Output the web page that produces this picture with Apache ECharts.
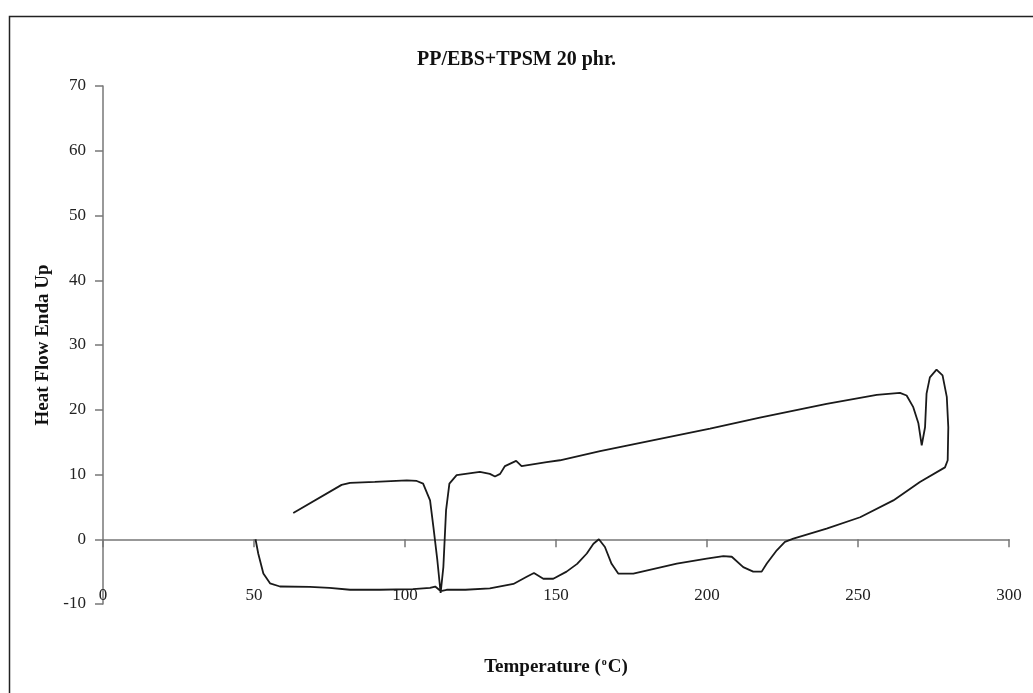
<!DOCTYPE html>
<html>
<head>
<meta charset="utf-8">
<script src="https://cdn.jsdelivr.net/npm/echarts@6/dist/echarts.min.js"></script>
<style>html,body{margin:0;padding:0;background:#fff}#c{width:1033px;height:693px}</style>
</head>
<body>
<div id="c"></div>
<script>
// Heating trace (lower curve), left to right
const heatT = [50.5, 51.4, 53.1, 55.3, 58.6, 68.5, 75, 81.8, 91.7, 102.6, 108.3, 110, 111.8, 113.8, 120, 128.1, 135.9, 140.3, 142.7, 145.8, 149.1, 153.5, 157, 160.2, 162.4, 164.2, 166.2, 168.4, 170.6, 175.6, 190, 199.9, 205.4, 208.2, 212, 215.3, 218.1, 219.8, 223.1, 225.8, 228.6, 239.6, 250.7, 261.7, 270.5, 278.8];
const heatH = [0, -2.2, -5.3, -6.8, -7.3, -7.35, -7.5, -7.8, -7.8, -7.7, -7.5, -7.3, -8.0, -7.8, -7.8, -7.6, -6.9, -5.8, -5.2, -6.1, -6.1, -5.0, -3.8, -2.2, -0.7, 0, -1.2, -3.8, -5.3, -5.3, -3.75, -3.0, -2.6, -2.7, -4.3, -5.0, -5.0, -3.75, -1.7, -0.4, 0.1, 1.65, 3.4, 6.0, 8.85, 11.1];
// Upper trace, right to left
const coolT = [279.7, 279.9, 279.4, 278, 276, 273.8, 272.7, 272.2, 271.1, 270, 268.3, 266.1, 263.9, 256.2, 239.6, 217.5, 201, 184.4, 164.6, 151.3, 146.9, 138.6, 136.8, 133.1, 131.5, 129.8, 128.1, 124.8, 117.1, 114.7, 113.6, 112.7, 111.8, 110.7, 109.4, 108.3, 106, 103.9, 100.6, 90, 81.8, 79, 63];
const coolH = [12.2, 17.3, 22, 25.3, 26.2, 25, 22.5, 17.3, 14.5, 17.9, 20.4, 22.2, 22.6, 22.3, 20.9, 18.8, 17.1, 15.5, 13.6, 12.2, 11.9, 11.3, 12.1, 11.3, 10.1, 9.7, 10.1, 10.4, 9.9, 8.6, 4.5, -4.3, -8.3, -3.2, 1.9, 6.0, 8.6, 9.0, 9.1, 8.85, 8.7, 8.4, 4.06];
const xTicks = [0, 50, 100, 150, 200, 250, 300];
const yTicks = [-10, 0, 10, 20, 30, 40, 50, 60, 70];

const path = heatT.map((t, i) => [t, heatH[i]]).concat(coolT.map((t, i) => [t, coolH[i]]));
const serif = '"Liberation Serif", "DejaVu Serif", serif';
const chart = echarts.init(document.getElementById('c'), null, {renderer: 'canvas'});
chart.setOption({
  animation: false,
  backgroundColor: '#fff',
  title: {
    text: 'PP/EBS+TPSM 20 phr.',
    left: 'center', top: 45,
    textStyle: {fontFamily: serif, fontWeight: 'bold', fontSize: 20, color: '#111'}
  },
  graphic: [{
    type: 'rect', left: 7, top: 14, silent: true,
    shape: {width: 1100, height: 800},
    style: {fill: 'none', stroke: '#222', lineWidth: 1.5}
  }],
  grid: {left: 103, right: 24, top: 86, bottom: 89, containLabel: false, outerBoundsMode: 'none'},
  xAxis: {
    type: 'value', min: xTicks[0], max: xTicks[xTicks.length - 1], interval: 50,
    axisLine: {onZero: true, lineStyle: {color: '#777', width: 1.5}},
    axisTick: {show: true, length: 8, lineStyle: {color: '#777', width: 1.5}},
    axisLabel: {inside: true, margin: 0, fontFamily: serif, fontSize: 17, color: '#222'},
    splitLine: {show: false},
    name: '{a|Temperature (}{s|o}{a|C)}',
    nameLocation: 'middle', nameGap: 53,
    nameTextStyle: {
      rich: {
        a: {fontFamily: serif, fontWeight: 'bold', fontSize: 19, color: '#111'},
        s: {fontFamily: serif, fontWeight: 'bold', fontSize: 10, color: '#111', verticalAlign: 'top', padding: [0, 1, 11, 1]}
      }
    }
  },
  yAxis: {
    type: 'value', min: yTicks[0], max: yTicks[yTicks.length - 1], interval: 10,
    axisLine: {show: true, onZero: false, lineStyle: {color: '#777', width: 1.5}},
    axisTick: {show: true, length: 8, lineStyle: {color: '#777', width: 1.5}},
    axisLabel: {margin: 17, fontFamily: serif, fontSize: 17, color: '#222'},
    splitLine: {show: false},
    name: 'Heat Flow Enda Up',
    nameLocation: 'middle', nameGap: 50, nameRotate: 90,
    nameTextStyle: {fontFamily: serif, fontWeight: 'bold', fontSize: 19, color: '#111'}
  },
  series: [{
    type: 'line', data: path, showSymbol: false, smooth: false,
    lineStyle: {color: '#1a1a1a', width: 1.8}
  }]
});
</script>
</body>
</html>
